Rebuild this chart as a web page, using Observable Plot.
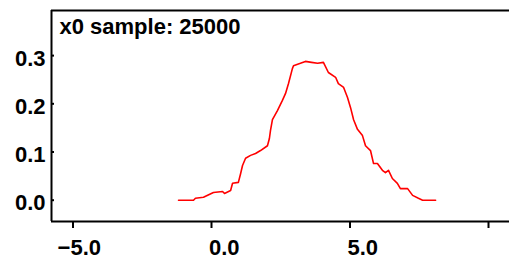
<!DOCTYPE html>
<html>
<head>
<meta charset="utf-8">
<script src="https://cdn.jsdelivr.net/npm/d3@7"></script>
<script src="https://cdn.jsdelivr.net/npm/@observablehq/plot@0.6"></script>
<style>
  html, body { margin: 0; padding: 0; background: #fff; overflow: hidden; }
  svg { display: block; }
</style>
</head>
<body>
<div id="chart"></div>
<script>
const titleText = "x0 sample: 25000";
const xVals = [-1.19, -0.65, -0.58, -0.29, 0.07, 0.40, 0.47, 0.69, 0.76, 0.97, 1.05, 1.12, 1.23, 1.41, 1.59, 1.77, 2.02, 2.09, 2.13, 2.20, 2.38, 2.56, 2.67, 2.78, 2.92, 2.96, 3.21, 3.39, 3.61, 3.83, 4.04, 4.22, 4.48, 4.58, 4.77, 4.91, 5.02, 5.13, 5.27, 5.45, 5.56, 5.74, 5.85, 5.99, 6.17, 6.28, 6.39, 6.53, 6.71, 6.82, 7.08, 7.26, 7.47, 7.62, 8.09];
const yVals = [0.000, 0.000, 0.004, 0.006, 0.016, 0.018, 0.014, 0.020, 0.035, 0.037, 0.055, 0.072, 0.087, 0.093, 0.097, 0.103, 0.113, 0.128, 0.145, 0.167, 0.186, 0.207, 0.221, 0.242, 0.273, 0.279, 0.284, 0.288, 0.286, 0.284, 0.286, 0.265, 0.255, 0.242, 0.234, 0.213, 0.192, 0.167, 0.147, 0.134, 0.113, 0.103, 0.076, 0.076, 0.062, 0.057, 0.062, 0.045, 0.035, 0.024, 0.024, 0.010, 0.004, 0.000, 0.000];
const xTicks = [-5, 0, 5, 10];
const yTicks = [0.0, 0.1, 0.2, 0.3];
const xDomain = [-5.776, 10.758];
const yDomain = [-0.0442, 0.3936];

const data = xVals.map((x, i) => ({x, y: yVals[i]}));
const fmt = d3.format(".1f");
const font = "'Liberation Sans', Arial, sans-serif";

const chart = Plot.plot({
  width: 509,
  height: 266,
  marginLeft: 51,
  marginRight: 0,
  marginTop: 10,
  marginBottom: 45,
  style: {fontFamily: font, fontSize: "22px", fontWeight: "bold", background: "#fff", color: "#000"},
  x: {domain: xDomain},
  y: {domain: yDomain},
  marks: [
    // x ticks (outward, down)
    Plot.axisX({ticks: xTicks, tickSize: 7, strokeWidth: 2, tickFormat: () => "", label: null}),
    // x labels
    Plot.axisX({ticks: xTicks, tickSize: 0, tickPadding: 18, tickFormat: d => d === 10 ? "" : fmt(d).replace("-", "-"), textAnchor: "end", dx: 28, label: null, fontSize: 22, fontWeight: "bold"}),
    // y ticks (inward)
    Plot.axisY({ticks: yTicks, tickSize: 3, dx: 3, strokeWidth: 2, tickFormat: () => "", label: null}),
    // y labels
    Plot.axisY({ticks: yTicks, tickSize: 0, tickPadding: 6, tickFormat: fmt, dy: 3, label: null, fontSize: 22, fontWeight: "bold"}),
    // frame: left, top, bottom
    Plot.ruleX([xDomain[0]], {stroke: "#000", strokeWidth: 2}),
    Plot.ruleY([yDomain[1]], {stroke: "#000", strokeWidth: 2}),
    Plot.ruleY([yDomain[0]], {stroke: "#000", strokeWidth: 2}),
    Plot.line(data, {x: "x", y: "y", stroke: "red", strokeWidth: 1.6}),
    Plot.text([titleText], {frameAnchor: "top-left", dx: 8, dy: 8, lineAnchor: "top", textAnchor: "start", fontSize: 22, fontWeight: "bold", fill: "#000"})
  ]
});
document.getElementById("chart").appendChild(chart);
</script>
</body>
</html>
